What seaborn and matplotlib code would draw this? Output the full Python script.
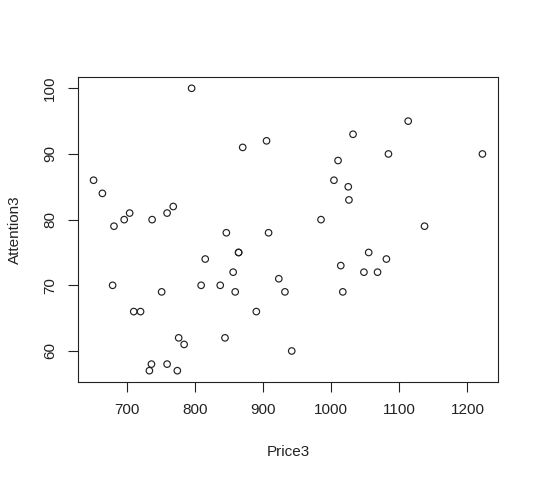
# Scatter of Attention3 vs Price3, base-R look

import pandas as pd
import seaborn as sns
import matplotlib.pyplot as plt

price3 = [651, 664, 681, 696, 704, 737, 759, 768, 795, 870,
          905, 846, 908, 864, 864, 815, 856, 923, 679, 809,
          837, 751, 859, 932, 710, 720, 890, 776, 784, 844,
          736, 733, 759, 774, 942, 1113, 1032, 1084, 1222, 1010,
          1004, 1025, 1026, 985, 1137, 1055, 1014, 1081, 1048, 1068,
          1017]
attention3 = [86, 84, 79, 80, 81, 80, 81, 82, 100, 91,
              92, 78, 78, 75, 75, 74, 72, 71, 70, 70,
              70, 69, 69, 69, 66, 66, 66, 62, 61, 62,
              58, 57, 58, 57, 60, 95, 93, 90, 90, 89,
              86, 85, 83, 80, 79, 75, 73, 74, 72, 72,
              69]
x_ticks = [700, 800, 900, 1000, 1100, 1200]
y_ticks = [60, 70, 80, 90, 100]

df = pd.DataFrame({'Price3': price3, 'Attention3': attention3})

sns.set_style('white')
plt.rcParams['font.family'] = ['Liberation Sans', 'DejaVu Sans']

fig = plt.figure(figsize=(5.39, 4.8), dpi=100)
ax = fig.add_axes([0.1447, 0.2042, 0.7792, 0.6354])

sns.scatterplot(data=df, x='Price3', y='Attention3', ax=ax, marker='o',
                facecolors='none', edgecolors='#222222', linewidth=0.85, s=22)

# R style padding of 4% on each side
xr = max(price3) - min(price3)
yr = max(attention3) - min(attention3)
ax.set_xlim(min(price3) - 0.04 * xr, max(price3) + 0.04 * xr)
ax.set_ylim(min(attention3) - 0.04 * yr, max(attention3) + 0.04 * yr)

ax.set_xticks(x_ticks)
ax.set_yticks(y_ticks)
for sp in ax.spines.values():
    sp.set_visible(True)
    sp.set_color('#222222')
    sp.set_linewidth(0.8)

ax.tick_params(axis='both', direction='out', length=7, width=0.8, color='#222222',
               labelsize=11, labelcolor='#222222', pad=8, bottom=True, left=True)
for lab in ax.get_yticklabels():
    lab.set_rotation(90)
    lab.set_va('center')

ax.set_xlabel('Price3', fontsize=11, color='#222222')
ax.set_ylabel('Attention3', fontsize=11, color='#222222')
ax.xaxis.label.set_va('center')
ax.yaxis.label.set_va('center')
ax.xaxis.set_label_coords(0.5, -0.23)
ax.yaxis.set_label_coords(-0.15, 0.5)

fig.savefig('out.png', dpi=100)
